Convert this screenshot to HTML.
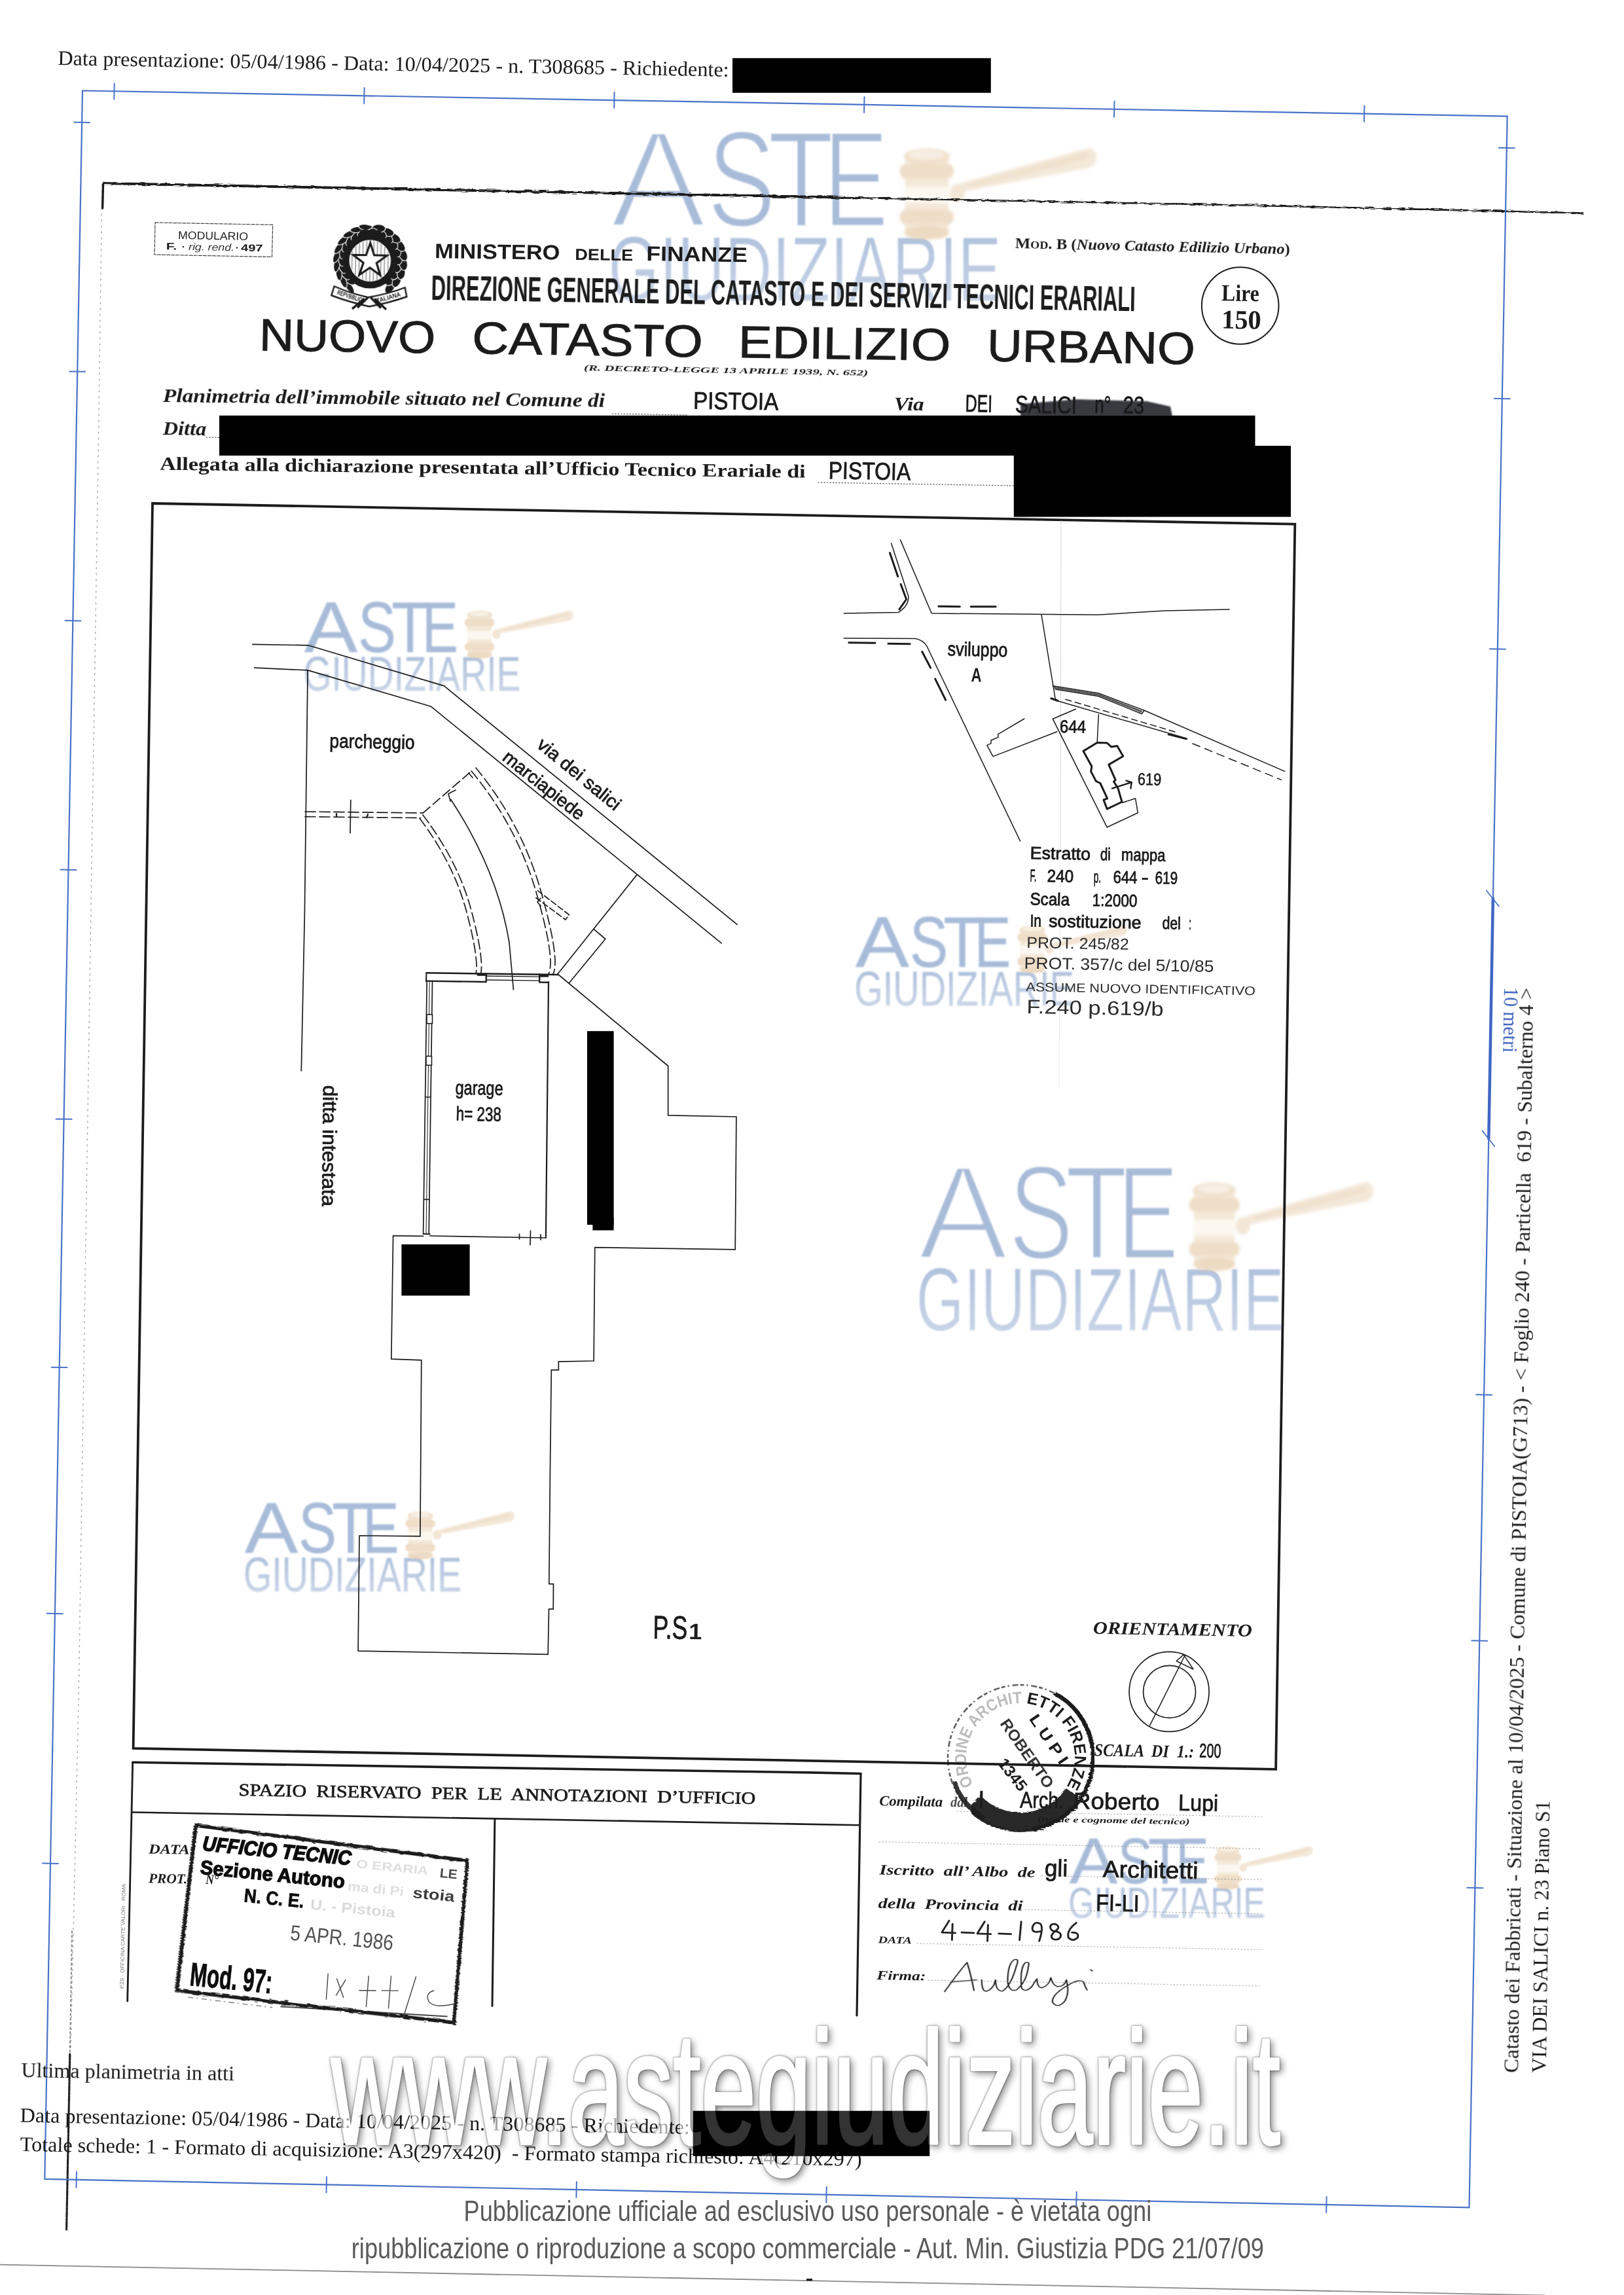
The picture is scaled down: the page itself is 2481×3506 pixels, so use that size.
<!DOCTYPE html>
<html><head><meta charset="utf-8"><title>Planimetria</title>
<style>html,body{margin:0;padding:0;background:#fff}svg{display:block}text{white-space:pre}</style></head>
<body>
<svg width="2481" height="3506" viewBox="0 0 2481 3506">
<defs>
<filter id="blur2" x="-5%" y="-20%" width="110%" height="140%"><feGaussianBlur stdDeviation="2"/></filter>
<filter id="blur1" x="-5%" y="-20%" width="110%" height="140%"><feGaussianBlur stdDeviation="1.1"/></filter>
<filter id="soft" x="-5%" y="-5%" width="110%" height="110%"><feGaussianBlur stdDeviation="0.6"/></filter>
<filter id="wsh" x="-5%" y="-20%" width="110%" height="140%">
 <feGaussianBlur in="SourceAlpha" stdDeviation="5.5" result="b"/>
 <feOffset in="b" dx="4" dy="4" result="o"/>
 <feComposite in="o" in2="SourceAlpha" operator="out" result="c"/>
 <feComponentTransfer in="c" result="sh"><feFuncA type="linear" slope="0.46"/></feComponentTransfer>
 <feMorphology in="SourceAlpha" operator="dilate" radius="1.2" result="d"/>
 <feGaussianBlur in="d" stdDeviation="0.8" result="db"/>
 <feComposite in="db" in2="SourceAlpha" operator="out" result="ol"/>
 <feComponentTransfer in="ol" result="ol2"><feFuncA type="linear" slope="0.3"/></feComponentTransfer>
 <feMerge><feMergeNode in="sh"/><feMergeNode in="ol2"/></feMerge>
</filter>
<filter id="rough" x="-2%" y="-50%" width="104%" height="200%">
 <feTurbulence type="fractalNoise" baseFrequency="0.08 0.6" numOctaves="2" seed="3" result="n"/>
 <feDisplacementMap in="SourceGraphic" in2="n" scale="5"/>
</filter>
<linearGradient id="gg" gradientUnits="userSpaceOnUse" x1="0" y1="15" x2="0" y2="110"><stop offset="0" stop-color="#b0c2dd"/><stop offset="1" stop-color="#c8d4e7"/></linearGradient>
<g id="gavel">
 <path d="M100 64 L118 55 L320 2 Q334 5 331 20 Q329 31 318 33 L122 69 L100 80 Z" fill="#f0dfca"/>
 <path d="M128 57 L316 8 L320 18 L130 63 Z" fill="#e8d2b6" opacity=".8"/>
 <ellipse cx="108" cy="72" rx="12" ry="14" fill="#eedcc5"/>
 <rect x="24" y="8" width="70" height="134" rx="12" fill="#f0dfc9"/>
 <ellipse cx="59" cy="15" rx="37" ry="12" fill="#ead5b9"/>
 <ellipse cx="59" cy="13" rx="28" ry="7" fill="#f5e9da"/>
 <rect x="16" y="27" width="86" height="22" rx="9" fill="#e8d0b2"/>
 <rect x="24" y="62" width="70" height="26" fill="#fbf4ea"/>
 <rect x="16" y="98" width="86" height="22" rx="9" fill="#e8d0b2"/>
 <ellipse cx="59" cy="133" rx="36" ry="11" fill="#e6ccac"/>
</g>
<g id="logo" font-family="Liberation Sans"><text transform="translate(-0.40 0) scale(1.0139 1)" font-size="203.8" fill="#a8bcd9" stroke="#fff" stroke-width="6">A</text><text transform="translate(138.61 0) scale(0.7228 1)" font-size="203.8" fill="#a8bcd9" stroke="#fff" stroke-width="4.5">S</text><text transform="translate(224.73 0) scale(0.7793 1)" font-size="203.8" fill="#a8bcd9" stroke="#fff" stroke-width="4.5">T</text><text transform="translate(304.53 0) scale(0.6863 1)" font-size="203.8" fill="#a8bcd9" stroke="#fff" stroke-width="4.5">E</text><text x="-3.01" y="109.9" font-size="137.5" textLength="562.3" lengthAdjust="spacingAndGlyphs" fill="url(#gg)" stroke="#fff" stroke-width="1.2">GIUDIZIARIE</text></g>
<g id="logoS" font-family="Liberation Sans"><text transform="translate(-0.40 0) scale(1.0139 1)" font-size="203.8" fill="#a8bcd9" stroke="#a8bcd9" stroke-width="0.6">A</text><text transform="translate(138.61 0) scale(0.7228 1)" font-size="203.8" fill="#a8bcd9" stroke="#a8bcd9" stroke-width="0.6">S</text><text transform="translate(224.73 0) scale(0.7793 1)" font-size="203.8" fill="#a8bcd9" stroke="#a8bcd9" stroke-width="0.6">T</text><text transform="translate(304.53 0) scale(0.6863 1)" font-size="203.8" fill="#a8bcd9" stroke="#a8bcd9" stroke-width="0.6">E</text><text x="-3.01" y="109.9" font-size="137.5" textLength="562.3" lengthAdjust="spacingAndGlyphs" fill="url(#gg)" stroke="#bccae1" stroke-width="0.5">GIUDIZIARIE</text></g>
</defs>
<rect x="0.0" y="0.0" width="2481.0" height="3506.0" fill="#ffffff" />
<g filter="url(#blur1)"><use href="#logo" transform="translate(932.5 346.4) scale(1.068 1.03)"/></g>
<g filter="url(#blur2)"><use href="#gavel" transform="translate(932.5 346.4) scale(1.068 1.03) translate(400 -119) scale(0.891 0.96)" opacity=".72"/></g>
<g filter="url(#blur1)"><use href="#logoS" transform="translate(465.2 995.6) scale(0.5906 0.54)"/></g>
<g filter="url(#blur1)"><use href="#gavel" transform="translate(465.2 995.6) scale(0.5906 0.54) translate(400 -119) scale(0.891 0.96)" opacity=".72"/></g>
<g filter="url(#blur1)"><use href="#logoS" transform="translate(1307 1476.5) scale(0.597 0.5386)"/></g>
<g filter="url(#blur1)"><use href="#gavel" transform="translate(1307 1476.5) scale(0.597 0.5386) translate(400 -119) scale(0.891 0.96)" opacity=".72"/></g>
<g filter="url(#blur1)"><use href="#logo" transform="translate(1402.6 1922.6) scale(1 1)"/></g>
<g filter="url(#blur2)"><use href="#gavel" transform="translate(1402.6 1922.6) scale(1 1) translate(400 -119) scale(0.891 0.96)" opacity=".72"/></g>
<g filter="url(#blur1)"><use href="#logoS" transform="translate(373.9 2371.8) scale(0.5924 0.5394)"/></g>
<g filter="url(#blur1)"><use href="#gavel" transform="translate(373.9 2371.8) scale(0.5924 0.5394) translate(400 -119) scale(0.891 0.96)" opacity=".72"/></g>
<g filter="url(#blur1)"><use href="#logoS" transform="translate(1633.9 2877) scale(0.5347 0.4843)"/></g>
<g filter="url(#blur1)"><use href="#gavel" transform="translate(1633.9 2877) scale(0.5347 0.4843) translate(400 -119) scale(0.891 0.96)" opacity=".72"/></g>
<g filter="url(#soft)">
<path d="M156 280 L1300 302" stroke="#1c1c1c" stroke-width="4" fill="none" filter="url(#rough)"/>
<path d="M1300 302 L1900 313.5 L2419 325.5" stroke="#1c1c1c" stroke-width="2.6" fill="none" filter="url(#rough)"/>
<path d="M156.0 282.0 L150.0 700.0 L138.0 1450.0 L120.0 2600.0 L108.0 3130.0" fill="none" stroke="#555" stroke-width="1.6" stroke-linejoin="round" stroke-linecap="round" stroke-dasharray="2 7" opacity=".45"/>
<path d="M157.5 282.0 L156.6 318.0" fill="none" stroke="#1c1c1c" stroke-width="3.4" stroke-linejoin="round" stroke-linecap="round" />
<path d="M106.8 3138.0 L101.6 3406.0" fill="none" stroke="#222" stroke-width="3.2" stroke-linejoin="round" stroke-linecap="round" stroke-dasharray="9 2 3 2" />
<path d="M110.0 2950.0 L106.8 3138.0" fill="none" stroke="#444" stroke-width="2" stroke-linejoin="round" stroke-linecap="round" stroke-dasharray="3 4" opacity=".6"/>
<path d="M237.0 340.0 L416.7 343.4 L415.5 392.5 L236.0 389.0 Z" fill="none" stroke="#444" stroke-width="1.2" stroke-linejoin="round" stroke-linecap="round" stroke-dasharray="5 2" />
<text x="272.0" y="365.0" transform="rotate(1.02 272.0 365.0)" font-family="Liberation Sans" font-size="17" textLength="107.0" lengthAdjust="spacingAndGlyphs" fill="#222" >MODULARIO</text>
<text x="253.7" y="381.3" transform="rotate(1.02 253.7 381.3)" font-family="Liberation Sans" font-size="15" font-weight="bold" textLength="16.3" lengthAdjust="spacingAndGlyphs" fill="#1a1a1a" >F.</text>
<text x="288.0" y="382.0" transform="rotate(1.02 288.0 382.0)" font-family="Liberation Sans" font-size="15" font-style="italic" textLength="70.0" lengthAdjust="spacingAndGlyphs" fill="#333" >rig. rend.</text>
<text x="368.0" y="383.5" transform="rotate(1.02 368.0 383.5)" font-family="Liberation Sans" font-size="15" font-weight="bold" textLength="33.5" lengthAdjust="spacingAndGlyphs" fill="#1a1a1a" >497</text>
<circle cx="280" cy="377" r="1.2" fill="#1c1c1c"/><circle cx="362" cy="378.5" r="1.2" fill="#1c1c1c"/>
<text x="664.0" y="394.3" transform="rotate(0.72 664.0 394.3)" font-family="Liberation Sans" font-size="31.7" font-weight="bold" textLength="191.4" lengthAdjust="spacingAndGlyphs" fill="#1a1a1a" >MINISTERO</text>
<text x="878.3" y="397.0" transform="rotate(0.71 878.3 397.0)" font-family="Liberation Sans" font-size="24.5" font-weight="bold" textLength="88.7" lengthAdjust="spacingAndGlyphs" fill="#1a1a1a" >DELLE</text>
<text x="987.3" y="398.3" transform="rotate(0.71 987.3 398.3)" font-family="Liberation Sans" font-size="31.7" font-weight="bold" textLength="154.4" lengthAdjust="spacingAndGlyphs" fill="#1a1a1a" >FINANZE</text>
<text x="658.5" y="457.5" transform="rotate(0.92 658.5 457.5)" font-family="Liberation Sans" font-size="54" font-weight="bold" textLength="1076.2" lengthAdjust="spacingAndGlyphs" fill="#1a1a1a" >DIREZIONE GENERALE DEL CATASTO E DEI SERVIZI TECNICI ERARIALI</text>
<text x="395.7" y="535.3" transform="rotate(0.84 395.7 535.3)" font-family="Liberation Sans" font-size="69" textLength="269.3" lengthAdjust="spacingAndGlyphs" fill="#1a1a1a" stroke="#1c1c1c" stroke-width="0.9">NUOVO</text>
<text x="721.0" y="540.1" transform="rotate(0.84 721.0 540.1)" font-family="Liberation Sans" font-size="69" textLength="352.5" lengthAdjust="spacingAndGlyphs" fill="#1a1a1a" stroke="#1c1c1c" stroke-width="0.9">CATASTO</text>
<text x="1127.5" y="546.0" transform="rotate(0.84 1127.5 546.0)" font-family="Liberation Sans" font-size="69" textLength="324.5" lengthAdjust="spacingAndGlyphs" fill="#1a1a1a" stroke="#1c1c1c" stroke-width="0.9">EDILIZIO</text>
<text x="1507.8" y="551.6" transform="rotate(0.84 1507.8 551.6)" font-family="Liberation Sans" font-size="69" textLength="317.7" lengthAdjust="spacingAndGlyphs" fill="#1a1a1a" stroke="#1c1c1c" stroke-width="0.9">URBANO</text>
<text x="1550.8" y="379.3" transform="rotate(1.25 1550.8 379.3)" font-family="Liberation Serif" font-weight="bold" font-size="23" textLength="420" lengthAdjust="spacingAndGlyphs" fill="#1c1c1c">M<tspan font-size="17">OD</tspan>. B (<tspan font-style="italic">Nuovo Catasto Edilizio Urbano</tspan>)</text>
<text x="892.0" y="565.5" transform="rotate(1.02 892.0 565.5)" font-family="Liberation Serif" font-size="13.5" font-weight="bold" font-style="italic" textLength="434.1" lengthAdjust="spacingAndGlyphs" fill="#1a1a1a" >(R. DECRETO-LEGGE 13 APRILE 1939, N. 652)</text>
<circle cx="1894.7" cy="467" r="58.8" fill="none" stroke="#1c1c1c" stroke-width="2"/>
<text x="1866.0" y="459.3" transform="rotate(1.02 1866.0 459.3)" font-family="Liberation Serif" font-size="36" font-weight="bold" textLength="57.5" lengthAdjust="spacingAndGlyphs" fill="#1a1a1a" >Lire</text>
<text x="1866.0" y="501.6" transform="rotate(1.02 1866.0 501.6)" font-family="Liberation Serif" font-size="41" font-weight="bold" textLength="60.5" lengthAdjust="spacingAndGlyphs" fill="#1a1a1a" >150</text>
<text x="248.8" y="613.8" transform="rotate(0.65 248.8 613.8)" font-family="Liberation Serif" font-size="28.5" font-weight="bold" font-style="italic" textLength="675.2" lengthAdjust="spacingAndGlyphs" fill="#1a1a1a" >Planimetria dell’immobile situato nel Comune di</text>
<text x="1059.0" y="624.5" transform="rotate(0.79 1059.0 624.5)" font-family="Liberation Sans" font-size="37" textLength="130.0" lengthAdjust="spacingAndGlyphs" stroke="#1a1a1a" stroke-width="0.8" fill="#1a1a1a" >PISTOIA</text>
<text x="1365.8" y="626.3" transform="rotate(1.02 1365.8 626.3)" font-family="Liberation Serif" font-size="28.5" font-weight="bold" font-style="italic" textLength="45.8" lengthAdjust="spacingAndGlyphs" fill="#1a1a1a" >Via</text>
<text x="1474.6" y="628.8" transform="rotate(1.02 1474.6 628.8)" font-family="Liberation Sans" font-size="37" textLength="41.4" lengthAdjust="spacingAndGlyphs" stroke="#1a1a1a" stroke-width="0.8" fill="#1a1a1a" >DEI</text>
<path d="M1559 617 L1645 610 L1752 613 L1788 621 L1791 636 L1559 636 Z" fill="#262932" opacity=".92" filter="url(#blur1)"/>
<text x="1550.8" y="630.2" transform="rotate(1.02 1550.8 630.2)" font-family="Liberation Sans" font-size="37" textLength="93.9" lengthAdjust="spacingAndGlyphs" stroke="#1a1a1a" stroke-width="0.8" fill="#1a1a1a" >SALICI</text>
<text x="1672.0" y="630.7" transform="rotate(1.02 1672.0 630.7)" font-family="Liberation Sans" font-size="37" textLength="25.0" lengthAdjust="spacingAndGlyphs" stroke="#1a1a1a" stroke-width="0.8" fill="#1a1a1a" >n°</text>
<text x="1715.5" y="631.2" transform="rotate(1.02 1715.5 631.2)" font-family="Liberation Sans" font-size="37" textLength="32.5" lengthAdjust="spacingAndGlyphs" stroke="#1a1a1a" stroke-width="0.8" fill="#1a1a1a" >23</text>
<text x="248.8" y="663.5" transform="rotate(1.02 248.8 663.5)" font-family="Liberation Serif" font-size="28.5" font-weight="bold" font-style="italic" textLength="66.2" lengthAdjust="spacingAndGlyphs" fill="#1a1a1a" >Ditta</text>
<text x="244.3" y="717.7" transform="rotate(0.69 244.3 717.7)" font-family="Liberation Serif" font-size="28.5" font-weight="bold" textLength="986.3" lengthAdjust="spacingAndGlyphs" fill="#1a1a1a" >Allegata alla dichiarazione presentata all’Ufficio Tecnico Erariale di</text>
<text x="1265.5" y="731.2" transform="rotate(1.02 1265.5 731.2)" font-family="Liberation Sans" font-size="37" textLength="125.5" lengthAdjust="spacingAndGlyphs" stroke="#1a1a1a" stroke-width="0.8" fill="#1a1a1a" >PISTOIA</text>
<path d="M935.0 632.0 L1050.0 634.0" fill="none" stroke="#555" stroke-width="1.2" stroke-linejoin="round" stroke-linecap="round" stroke-dasharray="1.5 3" />
<path d="M1200.0 636.0 L1335.0 638.0" fill="none" stroke="#555" stroke-width="1.2" stroke-linejoin="round" stroke-linecap="round" stroke-dasharray="1.5 3" />
<path d="M1420.0 639.0 L1550.0 641.0" fill="none" stroke="#555" stroke-width="1.2" stroke-linejoin="round" stroke-linecap="round" stroke-dasharray="1.5 3" />
<path d="M1250.0 737.0 L1549.0 742.0" fill="none" stroke="#555" stroke-width="1.2" stroke-linejoin="round" stroke-linecap="round" stroke-dasharray="1.5 3" />
<path d="M315.0 668.0 L335.0 668.4" fill="none" stroke="#555" stroke-width="1.2" stroke-linejoin="round" stroke-linecap="round" stroke-dasharray="1.5 3" />
<g transform="translate(565.3 398.3) rotate(1)">
 <g fill="#1c1c1c" stroke="#fff" stroke-width="1.1"><ellipse cx="-31.4" cy="40.2" rx="12" ry="4.6" transform="rotate(233 -31.4 40.2)"/><ellipse cx="-30.9" cy="32.0" rx="9" ry="3.6" transform="rotate(209 -30.9 32.0)"/><ellipse cx="-40.7" cy="30.7" rx="12" ry="4.6" transform="rotate(248 -40.7 30.7)"/><ellipse cx="-38.1" cy="22.9" rx="9" ry="3.6" transform="rotate(224 -38.1 22.9)"/><ellipse cx="-47.3" cy="19.1" rx="12" ry="4.6" transform="rotate(263 -47.3 19.1)"/><ellipse cx="-42.8" cy="12.3" rx="9" ry="3.6" transform="rotate(239 -42.8 12.3)"/><ellipse cx="-50.6" cy="6.2" rx="12" ry="4.6" transform="rotate(278 -50.6 6.2)"/><ellipse cx="-44.5" cy="0.8" rx="9" ry="3.6" transform="rotate(254 -44.5 0.8)"/><ellipse cx="-50.5" cy="-7.1" rx="12" ry="4.6" transform="rotate(293 -50.5 -7.1)"/><ellipse cx="-43.2" cy="-10.8" rx="9" ry="3.6" transform="rotate(269 -43.2 -10.8)"/><ellipse cx="-46.9" cy="-19.9" rx="12" ry="4.6" transform="rotate(308 -46.9 -19.9)"/><ellipse cx="-38.9" cy="-21.6" rx="9" ry="3.6" transform="rotate(284 -38.9 -21.6)"/><ellipse cx="-40.2" cy="-31.4" rx="12" ry="4.6" transform="rotate(323 -40.2 -31.4)"/><ellipse cx="-32.0" cy="-30.9" rx="9" ry="3.6" transform="rotate(299 -32.0 -30.9)"/><ellipse cx="-30.7" cy="-40.7" rx="12" ry="4.6" transform="rotate(338 -30.7 -40.7)"/><ellipse cx="-22.9" cy="-38.1" rx="9" ry="3.6" transform="rotate(314 -22.9 -38.1)"/><ellipse cx="-19.1" cy="-47.3" rx="12" ry="4.6" transform="rotate(353 -19.1 -47.3)"/><ellipse cx="-12.3" cy="-42.8" rx="9" ry="3.6" transform="rotate(329 -12.3 -42.8)"/><ellipse cx="-6.2" cy="-50.6" rx="12" ry="4.6" transform="rotate(368 -6.2 -50.6)"/><ellipse cx="-0.8" cy="-44.5" rx="9" ry="3.6" transform="rotate(344 -0.8 -44.5)"/><ellipse cx="31.4" cy="40.2" rx="10.5" ry="6.2" transform="rotate(307 31.4 40.2)"/><ellipse cx="31.5" cy="31.5" rx="8" ry="5" transform="rotate(330 31.5 31.5)"/><ellipse cx="41.3" cy="30.0" rx="10.5" ry="6.2" transform="rotate(291 41.3 30.0)"/><ellipse cx="38.9" cy="21.6" rx="8" ry="5" transform="rotate(314 38.9 21.6)"/><ellipse cx="47.9" cy="17.4" rx="10.5" ry="6.2" transform="rotate(275 47.9 17.4)"/><ellipse cx="43.4" cy="10.0" rx="8" ry="5" transform="rotate(298 43.4 10.0)"/><ellipse cx="50.9" cy="3.6" rx="10.5" ry="6.2" transform="rotate(259 50.9 3.6)"/><ellipse cx="44.4" cy="-2.3" rx="8" ry="5" transform="rotate(282 44.4 -2.3)"/><ellipse cx="49.9" cy="-10.6" rx="10.5" ry="6.2" transform="rotate(243 49.9 -10.6)"/><ellipse cx="42.1" cy="-14.5" rx="8" ry="5" transform="rotate(266 42.1 -14.5)"/><ellipse cx="45.0" cy="-23.9" rx="10.5" ry="6.2" transform="rotate(227 45.0 -23.9)"/><ellipse cx="36.5" cy="-25.5" rx="8" ry="5" transform="rotate(250 36.5 -25.5)"/><ellipse cx="36.7" cy="-35.4" rx="10.5" ry="6.2" transform="rotate(211 36.7 -35.4)"/><ellipse cx="28.0" cy="-34.6" rx="8" ry="5" transform="rotate(234 28.0 -34.6)"/><ellipse cx="25.5" cy="-44.2" rx="10.5" ry="6.2" transform="rotate(195 25.5 -44.2)"/><ellipse cx="17.4" cy="-41.0" rx="8" ry="5" transform="rotate(218 17.4 -41.0)"/><ellipse cx="12.3" cy="-49.5" rx="10.5" ry="6.2" transform="rotate(179 12.3 -49.5)"/><ellipse cx="5.4" cy="-44.2" rx="8" ry="5" transform="rotate(202 5.4 -44.2)"/></g>
 <circle r="32" fill="#fff"/>
 <g stroke="#1c1c1c" stroke-width="1.8" opacity=".4"><path d="M-27.5 -14.3 L-27.5 14.3"/><path d="M-22.0 -21.8 L-22.0 21.8"/><path d="M-16.5 -26.2 L-16.5 26.2"/><path d="M-11.0 -29.0 L-11.0 29.0"/><path d="M-5.5 -30.5 L-5.5 30.5"/><path d="M0.0 -31.0 L0.0 31.0"/><path d="M5.5 -30.5 L5.5 30.5"/><path d="M11.0 -29.0 L11.0 29.0"/><path d="M16.5 -26.2 L16.5 26.2"/><path d="M22.0 -21.8 L22.0 21.8"/><path d="M27.5 -14.3 L27.5 14.3"/></g>
 <circle r="37" fill="none" stroke="#1c1c1c" stroke-width="10.5"/>
 <path d="M-18 -40 L18 -40 L15 -47 L-15 -47 Z" fill="#1c1c1c"/>
 <path d="M0.0 -27.0 L6.2 -8.6 L25.7 -8.3 L10.1 3.3 L15.9 21.8 L0.0 10.6 L-15.9 21.8 L-10.1 3.3 L-25.7 -8.3 L-6.2 -8.6 Z" fill="#fff" stroke="#1c1c1c" stroke-width="3.2" stroke-linejoin="miter"/>
 <path d="M-54 40 Q-30 50 -2 56 Q30 50 54 40 L57 54 Q30 64 0 70 Q-30 64 -58 54 Z" fill="#fff" stroke="#1c1c1c" stroke-width="2.4"/>
 <path d="M-8 58 L-26 74 M8 58 L26 74 M-2 56 L-18 72 M2 56 L18 72" stroke="#1c1c1c" stroke-width="3.5"/>
 <text x="-50" y="52" font-family="Liberation Sans" font-weight="bold" font-size="10" transform="rotate(17 -50 52)" textLength="44" lengthAdjust="spacingAndGlyphs" fill="#1c1c1c">REPVBBLICA</text>
 <text x="10" y="65" font-family="Liberation Sans" font-weight="bold" font-size="10" transform="rotate(-17 10 65)" textLength="40" lengthAdjust="spacingAndGlyphs" fill="#1c1c1c">ITALIANA</text>
</g>
<path d="M233.0 769.0 L1978.3 800.7 L1949.1 2702.9 L203.6 2671.0 Z" fill="none" stroke="#1c1c1c" stroke-width="3.8" stroke-linejoin="miter" stroke-linecap="round" />
<path d="M1621.0 795.0 L1620.0 1300.0" fill="none" stroke="#b5b5b5" stroke-width="1.1" stroke-linejoin="round" stroke-linecap="round" opacity=".5"/>
<path d="M1620.0 1300.0 L1618.0 1660.0" fill="none" stroke="#c4c4c4" stroke-width="1" stroke-linejoin="round" stroke-linecap="round" opacity=".35"/>
<path d="M385.9 984.4 L470.8 985.8 L678.5 1047.9 L1126.2 1412.3" fill="none" stroke="#1c1c1c" stroke-width="1.7" stroke-linejoin="round" stroke-linecap="round" />
<path d="M388.8 1020.2 L470.1 1023.9 L658.5 1079.3 L1102.1 1440.8" fill="none" stroke="#1c1c1c" stroke-width="1.7" stroke-linejoin="round" stroke-linecap="round" />
<path d="M470.1 1023.9 L465.3 1400.0 L460.3 1636.0" fill="none" stroke="#1c1c1c" stroke-width="1.7" stroke-linejoin="round" stroke-linecap="round" />
<path d="M466.0 1240.0 L646.3 1241.9" fill="none" stroke="#1c1c1c" stroke-width="1.7" stroke-linejoin="round" stroke-linecap="round" stroke-dasharray="16 6" />
<path d="M466.0 1247.6 L642.6 1249.5" fill="none" stroke="#1c1c1c" stroke-width="1.7" stroke-linejoin="round" stroke-linecap="round" stroke-dasharray="16 6" />
<path d="M535.8 1222.3 L535.0 1272.5" fill="none" stroke="#1c1c1c" stroke-width="1.7" stroke-linejoin="round" stroke-linecap="round" />
<path d="M514.0 1243.0 L514.0 1247.0" fill="none" stroke="#1c1c1c" stroke-width="2.2" stroke-linejoin="round" stroke-linecap="round" />
<path d="M562.0 1244.0 L560.0 1249.0" fill="none" stroke="#1c1c1c" stroke-width="2.2" stroke-linejoin="round" stroke-linecap="round" />
<path d="M646.3 1241.9 L720.2 1178.0" fill="none" stroke="#1c1c1c" stroke-width="1.7" stroke-linejoin="round" stroke-linecap="round" stroke-dasharray="14 6" />
<path d="M716.0 1181.0 L722.0 1188.0" fill="none" stroke="#1c1c1c" stroke-width="1.7" stroke-linejoin="round" stroke-linecap="round" />
<path d="M696.0 1207.0 L685.0 1212.5 L688.0 1224.0" fill="none" stroke="#1c1c1c" stroke-width="1.7" stroke-linejoin="round" stroke-linecap="round" />
<path d="M720.2 1178 Q790 1262 819.5 1364.3 T838 1488" fill="none" stroke="#1c1c1c" stroke-width="1.7" stroke-linecap="round" stroke-linejoin="round" stroke-dasharray="15 6" />
<path d="M727 1173 Q797 1258 826.5 1362 T845 1488" fill="none" stroke="#1c1c1c" stroke-width="1.7" stroke-linecap="round" stroke-linejoin="round" stroke-dasharray="15 6" />
<path d="M688.8 1221.5 Q760 1330 778 1440 L784.4 1512" fill="none" stroke="#1c1c1c" stroke-width="1.7" stroke-linecap="round" stroke-linejoin="round" />
<path d="M646 1245 Q700 1316 719.8 1390.1 T734.5 1488" fill="none" stroke="#1c1c1c" stroke-width="1.7" stroke-linecap="round" stroke-linejoin="round" stroke-dasharray="15 6" />
<path d="M641 1250 Q693 1319 712.5 1392 T727 1488" fill="none" stroke="#1c1c1c" stroke-width="1.7" stroke-linecap="round" stroke-linejoin="round" stroke-dasharray="15 6" />
<path d="M821.4 1360.6 L869.4 1397.5 L864.0 1405.0 L818.0 1371.0" fill="none" stroke="#1c1c1c" stroke-width="1.7" stroke-linejoin="round" stroke-linecap="round" stroke-dasharray="9 4" />
<path d="M826.0 1372.0 L821.0 1378.0 L826.0 1384.0" fill="none" stroke="#1c1c1c" stroke-width="1.7" stroke-linejoin="round" stroke-linecap="round" />
<path d="M972.8 1336.6 L852.0 1488.0" fill="none" stroke="#1c1c1c" stroke-width="1.7" stroke-linejoin="round" stroke-linecap="round" />
<path d="M907.4 1419.7 L924.8 1434.5 L869.4 1501.7" fill="none" stroke="#1c1c1c" stroke-width="1.7" stroke-linejoin="round" stroke-linecap="round" />
<path d="M651.4 1486.2 L852.0 1489.0" fill="none" stroke="#1c1c1c" stroke-width="2.4" stroke-linejoin="round" stroke-linecap="round" />
<path d="M651.4 1486.2 L651.0 1499.0" fill="none" stroke="#1c1c1c" stroke-width="2" stroke-linejoin="round" stroke-linecap="round" />
<path d="M651.0 1498.6 L742.7 1500.0 L742.9 1487.5" fill="none" stroke="#1c1c1c" stroke-width="2.4" stroke-linejoin="round" stroke-linecap="round" />
<path d="M742.7 1491.0 L824.3 1492.2" fill="none" stroke="#1c1c1c" stroke-width="1.3" stroke-linejoin="round" stroke-linecap="round" />
<path d="M742.7 1497.0 L824.3 1498.2" fill="none" stroke="#1c1c1c" stroke-width="1.3" stroke-linejoin="round" stroke-linecap="round" />
<path d="M824.3 1488.5 L824.1 1500.5 L838.0 1500.8" fill="none" stroke="#1c1c1c" stroke-width="2.4" stroke-linejoin="round" stroke-linecap="round" />
<rect x="824" y="1488.6" width="14" height="4" fill="#1c1c1c"/><rect x="729" y="1486.8" width="14" height="4" fill="#1c1c1c"/>
<path d="M838.0 1500.0 L833.9 1890.6" fill="none" stroke="#1c1c1c" stroke-width="2.2" stroke-linejoin="round" stroke-linecap="round" />
<path d="M652.2 1499.0 L646.6 1885.0" fill="none" stroke="#1c1c1c" stroke-width="1.7" stroke-linejoin="round" stroke-linecap="round" />
<path d="M660.5 1499.0 L655.2 1885.0" fill="none" stroke="#1c1c1c" stroke-width="1.7" stroke-linejoin="round" stroke-linecap="round" />
<path d="M656.2 1499.0 L651.0 1885.0" fill="none" stroke="#1c1c1c" stroke-width="1" stroke-linejoin="round" stroke-linecap="round" />
<rect x="652.0" y="1549.8" width="8.5" height="13.8" fill="#fff" stroke="#1c1c1c" stroke-width="1.6"/>
<rect x="651.0" y="1613.5" width="8.5" height="13.8" fill="#fff" stroke="#1c1c1c" stroke-width="1.6"/>
<path d="M649.8 1676.0 L657.6 1676.0" fill="none" stroke="#1c1c1c" stroke-width="1.7" stroke-linejoin="round" stroke-linecap="round" />
<path d="M647.6 1832.4 L655.6 1832.4" fill="none" stroke="#1c1c1c" stroke-width="1.7" stroke-linejoin="round" stroke-linecap="round" />
<path d="M646.6 1885.0 L656.6 1885.3" fill="none" stroke="#1c1c1c" stroke-width="2" stroke-linejoin="round" stroke-linecap="round" />
<path d="M600.6 1887.8 L646.6 1888.4" fill="none" stroke="#1c1c1c" stroke-width="1.7" stroke-linejoin="round" stroke-linecap="round" />
<path d="M656.6 1888.0 L833.9 1891.0" fill="none" stroke="#1c1c1c" stroke-width="1.7" stroke-linejoin="round" stroke-linecap="round" />
<path d="M793.5 1885.0 L793.5 1893.0" fill="none" stroke="#1c1c1c" stroke-width="1.7" stroke-linejoin="round" stroke-linecap="round" />
<path d="M810.5 1880.0 L810.0 1902.0" fill="none" stroke="#1c1c1c" stroke-width="1.7" stroke-linejoin="round" stroke-linecap="round" />
<path d="M826.0 1886.0 L826.0 1894.0" fill="none" stroke="#1c1c1c" stroke-width="1.7" stroke-linejoin="round" stroke-linecap="round" />
<path d="M852.0 1488.0 L1020.7 1628.5 L1020.7 1703.8 L1124.9 1706.0 L1123.2 1908.9 L908.8 1905.6 L907.1 2079.0 L853.3 2080.1 L853.3 2092.9 L842.3 2092.9 L840.4 2250.0 L838.8 2419.7" fill="none" stroke="#1c1c1c" stroke-width="1.7" stroke-linejoin="miter" stroke-linecap="round" />
<path d="M838.8 2419.7 L845.5 2419.8 L845.2 2458.1 L838.5 2458.1 L837.2 2527.3 L547.1 2522.2 L549.0 2346.0 L641.9 2346.8 L643.8 2077.9 L597.8 2076.2 L600.6 1887.8" fill="none" stroke="#1c1c1c" stroke-width="1.7" stroke-linejoin="miter" stroke-linecap="round" />
<text x="503.3" y="1142.0" transform="rotate(1.02 503.3 1142.0)" font-family="Liberation Sans" font-size="30" textLength="130.1" lengthAdjust="spacingAndGlyphs" stroke="#1a1a1a" stroke-width="0.8" fill="#1a1a1a" >parcheggio</text>
<text x="818.5" y="1140.5" transform="rotate(39.4 818.5 1140.5)" font-family="Liberation Sans" font-size="28" textLength="156" lengthAdjust="spacingAndGlyphs" fill="#1c1c1c" stroke="#1c1c1c" stroke-width=".8">via dei salici</text>
<text x="766" y="1160" transform="rotate(38.6 766 1160)" font-family="Liberation Sans" font-size="28" textLength="151" lengthAdjust="spacingAndGlyphs" fill="#1c1c1c" stroke="#1c1c1c" stroke-width=".8">marciapiede</text>
<text x="695.4" y="1671.7" transform="rotate(1.02 695.4 1671.7)" font-family="Liberation Sans" font-size="30" textLength="73.1" lengthAdjust="spacingAndGlyphs" stroke="#1a1a1a" stroke-width="0.8" fill="#1a1a1a" >garage</text>
<text x="696.5" y="1711.6" transform="rotate(1.02 696.5 1711.6)" font-family="Liberation Sans" font-size="30" textLength="69.3" lengthAdjust="spacingAndGlyphs" stroke="#1a1a1a" stroke-width="0.8" fill="#1a1a1a" >h= 238</text>
<text x="494" y="1657.8" transform="rotate(90.6 494 1657.8)" font-family="Liberation Sans" font-size="30" textLength="185" lengthAdjust="spacingAndGlyphs" fill="#1c1c1c" stroke="#1c1c1c" stroke-width=".8">ditta intestata</text>
<text x="997.3" y="2503.0" transform="rotate(1.02 997.3 2503.0)" font-family="Liberation Sans" font-size="50" textLength="52.7" lengthAdjust="spacingAndGlyphs" stroke="#1a1a1a" stroke-width="0.8" fill="#1a1a1a" >P.S</text>
<text x="1052.0" y="2504.0" transform="rotate(1.02 1052.0 2504.0)" font-family="Liberation Sans" font-size="34" font-weight="bold" textLength="20.2" lengthAdjust="spacingAndGlyphs" fill="#1a1a1a" >1</text>
<path d="M1375.4 824.6 L1423.2 937.0 L1677.2 939.2 L1780.0 933.0 L1878.1 931.1" fill="none" stroke="#1c1c1c" stroke-width="1.5" stroke-linejoin="round" stroke-linecap="round" />
<path d="M1361.6 829.9 L1387.8 910.8 Q1389 925 1372.4 935.5 L1289.2 937" fill="none" stroke="#1c1c1c" stroke-width="1.5" stroke-linecap="round" stroke-linejoin="round" />
<path d="M1359.4 844.6 L1371.7 880.7" fill="none" stroke="#1c1c1c" stroke-width="3" stroke-linejoin="round" stroke-linecap="round" />
<path d="M1376.1 892.4 L1384.7 915.5 L1373.9 930.8" fill="none" stroke="#1c1c1c" stroke-width="3" stroke-linejoin="round" stroke-linecap="round" />
<path d="M1433.9 926.2 L1466.3 926.8" fill="none" stroke="#1c1c1c" stroke-width="3" stroke-linejoin="round" stroke-linecap="round" />
<path d="M1483.2 926.8 L1521.1 926.8" fill="none" stroke="#1c1c1c" stroke-width="3" stroke-linejoin="round" stroke-linecap="round" />
<path d="M1289.2 974.9 L1398.5 975.5 Q1410 978 1415.5 986.3 L1558.6 1284.9" fill="none" stroke="#1c1c1c" stroke-width="1.5" stroke-linecap="round" stroke-linejoin="round" />
<path d="M1296.9 981.7 L1337.0 982.3" fill="none" stroke="#1c1c1c" stroke-width="3" stroke-linejoin="round" stroke-linecap="round" />
<path d="M1357.0 983.2 L1390.2 983.8" fill="none" stroke="#1c1c1c" stroke-width="3" stroke-linejoin="round" stroke-linecap="round" />
<path d="M1408.7 995.5 L1421.6 1020.1" fill="none" stroke="#1c1c1c" stroke-width="3" stroke-linejoin="round" stroke-linecap="round" />
<path d="M1428.7 1037.1 L1444.7 1069.4" fill="none" stroke="#1c1c1c" stroke-width="3" stroke-linejoin="round" stroke-linecap="round" />
<path d="M1591.0 939.2 L1612.5 1069.4" fill="none" stroke="#1c1c1c" stroke-width="1.5" stroke-linejoin="round" stroke-linecap="round" />
<path d="M1608.4 1047.8 L1678.3 1059.0 L1748.1 1085.3 L1962.7 1178.4" fill="none" stroke="#1c1c1c" stroke-width="1.5" stroke-linejoin="round" stroke-linecap="round" />
<path d="M1612.3 1053.0 L1677.0 1063.4 L1744.2 1090.5 L1748.1 1085.3" fill="none" stroke="#1c1c1c" stroke-width="1.5" stroke-linejoin="round" stroke-linecap="round" />
<path d="M1611.0 1050.5 L1677.5 1061.2 L1745.0 1087.5" fill="none" stroke="#555" stroke-width="3" stroke-linejoin="round" stroke-linecap="round" stroke-dasharray="3 2" />
<path d="M1612.3 1069.8 L1812.7 1128.0" fill="none" stroke="#1c1c1c" stroke-width="1.5" stroke-linejoin="round" stroke-linecap="round" />
<path d="M1606.0 1067.0 L1616.0 1070.5" fill="none" stroke="#1c1c1c" stroke-width="3.2" stroke-linejoin="round" stroke-linecap="round" />
<path d="M1628.0 1068.5 L1800.0 1119.5" fill="none" stroke="#1c1c1c" stroke-width="1.5" stroke-linejoin="round" stroke-linecap="round" stroke-dasharray="9 6" />
<path d="M1785.0 1122.0 L1812.7 1129.0" fill="none" stroke="#1c1c1c" stroke-width="2.6" stroke-linejoin="round" stroke-linecap="round" />
<path d="M1822.0 1136.0 L1957.6 1191.4" fill="none" stroke="#1c1c1c" stroke-width="1.5" stroke-linejoin="round" stroke-linecap="round" stroke-dasharray="12 8" />
<path d="M1643.4 1083.3 L1608.4 1098.3 L1691.2 1263.8 L1738.3 1241.8 L1734.6 1219.8 L1714.5 1226.3" fill="none" stroke="#1c1c1c" stroke-width="1.5" stroke-linejoin="round" stroke-linecap="round" />
<path d="M1678.3 1091.8 L1676.2 1133.2" fill="none" stroke="#1c1c1c" stroke-width="1.5" stroke-linejoin="round" stroke-linecap="round" />
<path d="M1614.9 1117.7 L1517.1 1155.6 L1507.8 1138.7 L1514.0 1135.6 L1514.0 1131.0 L1524.8 1126.4 L1524.8 1121.7 L1564.8 1098.0" fill="none" stroke="#1c1c1c" stroke-width="1.5" stroke-linejoin="round" stroke-linecap="round" />
<path d="M1676.2 1134.5 L1691.2 1135.0 L1697.7 1140.9 L1706.7 1139.6 L1715.8 1155.2 L1693.8 1168.1 L1704.1 1191.4 L1701.5 1194.0 L1708.0 1204.3 L1714.0 1225.0 L1691.2 1235.8 L1686.0 1221.9 L1691.7 1219.8 L1680.9 1196.5 L1674.4 1193.4 L1666.6 1178.4 L1667.9 1170.7 L1655.0 1147.4 Z" fill="none" stroke="#1c1c1c" stroke-width="3" stroke-linejoin="round" stroke-linecap="round" />
<path d="M1699.0 1204.3 L1728.7 1195.2" fill="none" stroke="#1c1c1c" stroke-width="2.4" stroke-linejoin="round" stroke-linecap="round" />
<path d="M1720.5 1192.6 L1728.7 1195.2 L1727.4 1204.3" fill="none" stroke="#1c1c1c" stroke-width="2.4" stroke-linejoin="round" stroke-linecap="round" />
<text x="1737.7" y="1199.1" transform="rotate(1.02 1737.7 1199.1)" font-family="Liberation Sans" font-size="26" textLength="36.3" lengthAdjust="spacingAndGlyphs" fill="#1a1a1a" stroke="#1c1c1c" stroke-width=".6">619</text>
<text x="1618.8" y="1119.0" transform="rotate(1.02 1618.8 1119.0)" font-family="Liberation Sans" font-size="27" textLength="40.1" lengthAdjust="spacingAndGlyphs" stroke="#1a1a1a" stroke-width="0.8" fill="#1a1a1a" >644</text>
<text x="1447.6" y="1001.5" transform="rotate(1.02 1447.6 1001.5)" font-family="Liberation Sans" font-size="30" textLength="91.6" lengthAdjust="spacingAndGlyphs" stroke="#1a1a1a" stroke-width="0.8" fill="#1a1a1a" >sviluppo</text>
<text x="1483.6" y="1041.3" transform="rotate(1.02 1483.6 1041.3)" font-family="Liberation Sans" font-size="30" font-weight="bold" textLength="15.9" lengthAdjust="spacingAndGlyphs" fill="#1a1a1a" >A</text>
<text x="1573.5" y="1312.0" transform="rotate(1.02 1573.5 1312.0)" font-family="Liberation Sans" font-size="26.5" textLength="92.5" lengthAdjust="spacingAndGlyphs" stroke="#1a1a1a" stroke-width="0.8" fill="#1a1a1a" >Estratto</text>
<text x="1680.7" y="1313.9" transform="rotate(1.02 1680.7 1313.9)" font-family="Liberation Sans" font-size="26.5" textLength="16.0" lengthAdjust="spacingAndGlyphs" stroke="#1a1a1a" stroke-width="0.8" fill="#1a1a1a" >di</text>
<text x="1712.7" y="1314.5" transform="rotate(1.02 1712.7 1314.5)" font-family="Liberation Sans" font-size="26.5" textLength="67.7" lengthAdjust="spacingAndGlyphs" stroke="#1a1a1a" stroke-width="0.8" fill="#1a1a1a" >mappa</text>
<text x="1573.5" y="1346.5" transform="rotate(1.02 1573.5 1346.5)" font-family="Liberation Sans" font-size="26.5" textLength="9.9" lengthAdjust="spacingAndGlyphs" stroke="#1a1a1a" stroke-width="0.8" fill="#1a1a1a" >F.</text>
<text x="1599.4" y="1347.0" transform="rotate(1.02 1599.4 1347.0)" font-family="Liberation Sans" font-size="26.5" textLength="40.6" lengthAdjust="spacingAndGlyphs" stroke="#1a1a1a" stroke-width="0.8" fill="#1a1a1a" >240</text>
<text x="1670.8" y="1348.2" transform="rotate(1.02 1670.8 1348.2)" font-family="Liberation Sans" font-size="26.5" textLength="11.1" lengthAdjust="spacingAndGlyphs" stroke="#1a1a1a" stroke-width="0.8" fill="#1a1a1a" >p.</text>
<text x="1700.4" y="1348.8" transform="rotate(1.02 1700.4 1348.8)" font-family="Liberation Sans" font-size="26.5" textLength="36.9" lengthAdjust="spacingAndGlyphs" stroke="#1a1a1a" stroke-width="0.8" fill="#1a1a1a" >644</text>
<text x="1743.5" y="1349.5" transform="rotate(1.02 1743.5 1349.5)" font-family="Liberation Sans" font-size="26.5" textLength="11.1" lengthAdjust="spacingAndGlyphs" stroke="#1a1a1a" stroke-width="0.8" fill="#1a1a1a" >-</text>
<text x="1764.4" y="1349.9" transform="rotate(1.02 1764.4 1349.9)" font-family="Liberation Sans" font-size="26.5" textLength="34.5" lengthAdjust="spacingAndGlyphs" stroke="#1a1a1a" stroke-width="0.8" fill="#1a1a1a" >619</text>
<text x="1573.5" y="1382.2" transform="rotate(1.02 1573.5 1382.2)" font-family="Liberation Sans" font-size="26.5" textLength="60.4" lengthAdjust="spacingAndGlyphs" stroke="#1a1a1a" stroke-width="0.8" fill="#1a1a1a" >Scala</text>
<text x="1668.4" y="1383.9" transform="rotate(1.02 1668.4 1383.9)" font-family="Liberation Sans" font-size="26.5" textLength="68.9" lengthAdjust="spacingAndGlyphs" stroke="#1a1a1a" stroke-width="0.8" fill="#1a1a1a" >1:2000</text>
<text x="1573.5" y="1415.5" transform="rotate(1.02 1573.5 1415.5)" font-family="Liberation Sans" font-size="26.5" textLength="17.3" lengthAdjust="spacingAndGlyphs" stroke="#1a1a1a" stroke-width="0.8" fill="#1a1a1a" >In</text>
<text x="1601.9" y="1416.0" transform="rotate(1.02 1601.9 1416.0)" font-family="Liberation Sans" font-size="26.5" textLength="141.6" lengthAdjust="spacingAndGlyphs" stroke="#1a1a1a" stroke-width="0.8" fill="#1a1a1a" >sostituzione</text>
<text x="1775.5" y="1419.1" transform="rotate(1.02 1775.5 1419.1)" font-family="Liberation Sans" font-size="26.5" textLength="28.3" lengthAdjust="spacingAndGlyphs" stroke="#1a1a1a" stroke-width="0.8" fill="#1a1a1a" >del</text>
<text x="1816.0" y="1419.8" transform="rotate(1.02 1816.0 1419.8)" font-family="Liberation Sans" font-size="26.5" textLength="4.0" lengthAdjust="spacingAndGlyphs" stroke="#1a1a1a" stroke-width="0.8" fill="#1a1a1a" >:</text>
<text x="1568.3" y="1448.0" transform="rotate(1.02 1568.3 1448.0)" font-family="Liberation Sans" font-size="24" textLength="156.2" lengthAdjust="spacingAndGlyphs" fill="#2a2a2a" stroke="none">PROT. 245/82</text>
<text x="1564.6" y="1479.7" transform="rotate(1.02 1564.6 1479.7)" font-family="Liberation Sans" font-size="25" textLength="289.7" lengthAdjust="spacingAndGlyphs" fill="#2a2a2a" stroke="none">PROT. 357/c del 5/10/85</text>
<text x="1567.3" y="1514.1" transform="rotate(1.02 1567.3 1514.1)" font-family="Liberation Sans" font-size="19" textLength="350.6" lengthAdjust="spacingAndGlyphs" fill="#2a2a2a" stroke="none">ASSUME NUOVO IDENTIFICATIVO</text>
<text x="1568.3" y="1548.0" transform="rotate(1.02 1568.3 1548.0)" font-family="Liberation Sans" font-size="30" textLength="209.2" lengthAdjust="spacingAndGlyphs" fill="#2a2a2a" stroke="none">F.240 p.619/b</text>
<text x="1669.7" y="2495.7" transform="rotate(1.02 1669.7 2495.7)" font-family="Liberation Serif" font-size="27" font-weight="bold" font-style="italic" textLength="243.1" lengthAdjust="spacingAndGlyphs" fill="#1a1a1a" >ORIENTAMENTO</text>
<circle cx="1786.1" cy="2584.4" r="61" fill="none" stroke="#1c1c1c" stroke-width="1.7"/><circle cx="1786.6" cy="2584.4" r="40" fill="none" stroke="#1c1c1c" stroke-width="1.7"/>
<path d="M1756.5 2636.1 L1810.1 2529.0" fill="none" stroke="#1c1c1c" stroke-width="1.5" stroke-linejoin="round" stroke-linecap="round" />
<path d="M1808.2 2527.9 L1797.2 2537.5 L1823.0 2550.0 Z" fill="none" stroke="#1c1c1c" stroke-width="1.5" stroke-linejoin="round" stroke-linecap="round" />
<text x="1671.5" y="2682.3" transform="rotate(1.02 1671.5 2682.3)" font-family="Liberation Serif" font-size="27" font-weight="bold" font-style="italic" textLength="152.5" lengthAdjust="spacingAndGlyphs" fill="#1a1a1a" >SCALA  DI  1.:</text>
<text x="1832.0" y="2684.5" transform="rotate(1.02 1832.0 2684.5)" font-family="Liberation Sans" font-size="30" textLength="33.5" lengthAdjust="spacingAndGlyphs" stroke="#1a1a1a" stroke-width="0.8" fill="#1a1a1a" >200</text>
<path d="M202.7 2692.3 L1240.0 2707.9 L1315.0 2709.5" fill="none" stroke="#1c1c1c" stroke-width="3.6" stroke-linejoin="miter" stroke-linecap="round" />
<path d="M194.7 3057.0 L202.7 2692.3" fill="none" stroke="#1c1c1c" stroke-width="2.8" stroke-linejoin="round" stroke-linecap="round" />
<path d="M1315.0 2709.5 L1309.0 3079.0" fill="none" stroke="#1c1c1c" stroke-width="3.2" stroke-linejoin="round" stroke-linecap="round" />
<path d="M202.0 2768.5 L1313.5 2788.2" fill="none" stroke="#1c1c1c" stroke-width="2.6" stroke-linejoin="round" stroke-linecap="round" />
<path d="M755.9 2778.3 L752.0 3064.5" fill="none" stroke="#1c1c1c" stroke-width="3" stroke-linejoin="round" stroke-linecap="round" />
<text x="364.5" y="2743.1" transform="rotate(0.93 364.5 2743.1)" font-family="Liberation Serif" font-size="26.5" textLength="789.8" lengthAdjust="spacingAndGlyphs" fill="#1a1a1a" stroke="#1c1c1c" stroke-width=".7">SPAZIO  RISERVATO  PER  LE  ANNOTAZIONI  D’UFFICIO</text>
<text x="226.9" y="2831.5" transform="rotate(1.02 226.9 2831.5)" font-family="Liberation Serif" font-size="21" font-weight="bold" font-style="italic" textLength="62.8" lengthAdjust="spacingAndGlyphs" fill="#1a1a1a" >DATA</text>
<text x="226.9" y="2876.3" transform="rotate(1.02 226.9 2876.3)" font-family="Liberation Serif" font-size="21" font-weight="bold" font-style="italic" textLength="59.1" lengthAdjust="spacingAndGlyphs" fill="#1a1a1a" >PROT.</text>
<text x="314.0" y="2878.0" transform="rotate(1.02 314.0 2878.0)" font-family="Liberation Serif" font-size="21" font-weight="bold" font-style="italic" textLength="20.0" lengthAdjust="spacingAndGlyphs" fill="#1a1a1a" >N°</text>
<text x="189" y="3038" transform="rotate(-89 189 3038)" font-family="Liberation Sans" font-size="8" textLength="160" lengthAdjust="spacingAndGlyphs" fill="#777">PZS · OFFICINA CARTE VALORI · ROMA</text>
<g transform="translate(299.3 2788.5) rotate(7)">
<path d="M0 0 L418 3 L428 251 L2 254 Z" fill="none" stroke="#1c1c1c" stroke-width="5.5" filter="url(#rough)"/>
<path d="M-2 1 L-1 252" stroke="#1c1c1c" stroke-width="3" stroke-dasharray="2 2" opacity=".7"/>
<path d="M162 259 L417 243" stroke="#1c1c1c" stroke-width="2.2" opacity=".8"/><path d="M20 262 L150 262" stroke="#1c1c1c" stroke-width="1.6" stroke-dasharray="8 5 2 6" opacity=".5"/>
<g transform="rotate(-1.3)" font-family="Liberation Sans" font-weight="bold">
<text x="13" y="37" font-style="italic" font-size="31" textLength="228" lengthAdjust="spacingAndGlyphs" fill="#111" stroke="#111" stroke-width="1.6">UFFICIO TECNIC</text>
<text x="13" y="73" font-size="30" textLength="222" lengthAdjust="spacingAndGlyphs" fill="#111" stroke="#111" stroke-width="1.3">Sezione Autono</text>
<text x="84" y="109" font-size="29" textLength="92" lengthAdjust="spacingAndGlyphs" fill="#111" stroke="#111" stroke-width=".8">N. C. E.</text>
<text x="378" y="42" font-size="20" textLength="27" lengthAdjust="spacingAndGlyphs" fill="#1c1c1c" opacity=".8">LE</text>
<text x="340" y="77" font-size="23" textLength="64" lengthAdjust="spacingAndGlyphs" fill="#1c1c1c" opacity=".85">stoia</text>
<text x="250" y="40" font-size="18" fill="#1c1c1c" opacity=".13" textLength="110" lengthAdjust="spacingAndGlyphs">O ERARIA</text>
<text x="240" y="76" font-size="20" fill="#1c1c1c" opacity=".13" textLength="86" lengthAdjust="spacingAndGlyphs">ma di Pi</text>
<text x="186" y="110" font-size="22" fill="#1c1c1c" opacity=".15" textLength="130" lengthAdjust="spacingAndGlyphs">U. - Pistoia</text>
<text x="160" y="160" font-weight="normal" font-size="33" textLength="158" lengthAdjust="spacingAndGlyphs" fill="#333" opacity=".85">5 APR. 1986</text>
<text x="14" y="244" font-size="50" textLength="126" lengthAdjust="spacingAndGlyphs" fill="#111" stroke="#111" stroke-width="1">Mod. 97:</text>
</g>
<path d="M228 200 l2 40 M242 206 l14 28 m0 -28 l-12 26 M290 196 l2 48 m-14 -24 l26 -3 M324 192 l2 50 m-14 -26 l26 -3 M362 188 l-12 66 M392 206 q-14 6 -6 18 q10 10 40 -2" stroke="#444" stroke-width="1.4" fill="none"/>
</g>
<text x="1343.2" y="2758.2" transform="rotate(1.02 1343.2 2758.2)" font-family="Liberation Serif" font-size="22" font-weight="bold" font-style="italic" textLength="96.8" lengthAdjust="spacingAndGlyphs" fill="#1a1a1a" >Compilata</text>
<text x="1452.0" y="2760.0" transform="rotate(1.02 1452.0 2760.0)" font-family="Liberation Serif" font-size="22" font-weight="bold" font-style="italic" textLength="26.0" lengthAdjust="spacingAndGlyphs" opacity="0.8" fill="#1a1a1a" >dal</text>
<text x="1495.0" y="2760.8" transform="rotate(1.02 1495.0 2760.8)" font-family="Liberation Sans" font-size="34" textLength="8.0" lengthAdjust="spacingAndGlyphs" stroke="#1a1a1a" stroke-width="0.8" fill="#1a1a1a" >l</text>
<text x="1558.0" y="2761.5" transform="rotate(1.02 1558.0 2761.5)" font-family="Liberation Sans" font-size="35" textLength="67.0" lengthAdjust="spacingAndGlyphs" stroke="#1a1a1a" stroke-width="0.8" fill="#1a1a1a" >Arch.</text>
<text x="1639.4" y="2762.9" transform="rotate(1.02 1639.4 2762.9)" font-family="Liberation Sans" font-size="35" textLength="132.1" lengthAdjust="spacingAndGlyphs" stroke="#1a1a1a" stroke-width="0.8" fill="#1a1a1a" >Roberto</text>
<text x="1800.0" y="2765.8" transform="rotate(1.02 1800.0 2765.8)" font-family="Liberation Sans" font-size="35" textLength="61.0" lengthAdjust="spacingAndGlyphs" stroke="#1a1a1a" stroke-width="0.8" fill="#1a1a1a" >Lupi</text>
<text x="1585.0" y="2783.0" transform="rotate(1.02 1585.0 2783.0)" font-family="Liberation Serif" font-size="12.5" font-weight="bold" font-style="italic" textLength="232.5" lengthAdjust="spacingAndGlyphs" fill="#1a1a1a" >(nome e cognome del tecnico)</text>
<text x="1343.2" y="2863.6" transform="rotate(1.02 1343.2 2863.6)" font-family="Liberation Serif" font-size="22" font-weight="bold" font-style="italic" textLength="238.4" lengthAdjust="spacingAndGlyphs" fill="#1a1a1a" >Iscritto  all’ Albo  de</text>
<text x="1595.8" y="2866.0" transform="rotate(1.02 1595.8 2866.0)" font-family="Liberation Sans" font-size="36" textLength="35.2" lengthAdjust="spacingAndGlyphs" stroke="#1a1a1a" stroke-width="0.8" fill="#1a1a1a" >gli</text>
<text x="1684.5" y="2867.5" transform="rotate(1.02 1684.5 2867.5)" font-family="Liberation Sans" font-size="36" textLength="145.9" lengthAdjust="spacingAndGlyphs" stroke="#1a1a1a" stroke-width="0.8" fill="#1a1a1a" >Architetti</text>
<text x="1341.6" y="2914.8" transform="rotate(1.02 1341.6 2914.8)" font-family="Liberation Serif" font-size="22" font-weight="bold" font-style="italic" textLength="220.9" lengthAdjust="spacingAndGlyphs" fill="#1a1a1a" >della  Provincia  di</text>
<text x="1674.0" y="2919.0" transform="rotate(1.02 1674.0 2919.0)" font-family="Liberation Sans" font-size="36" textLength="66.5" lengthAdjust="spacingAndGlyphs" stroke="#1a1a1a" stroke-width="0.8" fill="#1a1a1a" >FI-LI</text>
<text x="1341.6" y="2968.3" transform="rotate(1.02 1341.6 2968.3)" font-family="Liberation Serif" font-size="15" font-weight="bold" font-style="italic" textLength="51.2" lengthAdjust="spacingAndGlyphs" fill="#1a1a1a" >DATA</text>
<text x="1339.3" y="3024.1" transform="rotate(1.02 1339.3 3024.1)" font-family="Liberation Serif" font-size="20" font-weight="bold" font-style="italic" textLength="74.9" lengthAdjust="spacingAndGlyphs" fill="#1a1a1a" >Firma:</text>
<g transform="translate(1438 2962) scale(0.86 0.82) translate(-1438 -2962)">
<path d="M1452 2928 l-13 22 l24 1 M1458 2934 l-1 30  M1474 2950 l22 1  M1515 2930 l-13 22 l24 1 M1521 2936 l-1 30 M1540 2952 l22 1 M1580 2930 l-3 34 M1614 2948 q-16 4 -14 -8 q4 -12 14 -6 q6 6 -2 32 M1640 2934 q-10 0 -8 8 q2 6 10 6 q10 2 8 10 q-4 8 -14 4 q-6 -6 4 -14 q12 -8 0 -14 M1678 2932 q-18 14 -14 28 q8 8 16 0 q4 -10 -10 -10" fill="none" stroke="#222" stroke-width="3.4" stroke-linecap="round" stroke-linejoin="round" />
</g>
<g transform="translate(1443 3040) scale(1.32 0.86) translate(-1443 -3040)">
<path d="M1443 3043 q14 -30 26 -52 q4 18 8 50 M1450 3026 l30 -4 M1486 3022 q0 22 6 20 q8 -4 10 -20 q0 20 8 20 q10 -10 16 -44 q4 -14 -2 -12 q-8 6 -8 40 q2 18 10 14 q12 -14 14 -42 q2 -10 -4 -6 q-6 10 -4 44 q4 10 12 -2 q4 -10 6 -14 q0 16 6 16 q8 -4 10 -18 q2 14 8 16 q8 0 10 -12 q4 24 -2 38 q-8 14 -14 2 q-2 -14 22 -34 q10 -8 14 -2 q2 10 4 14 M1612 3004 l2 2" fill="none" stroke="#222" stroke-width="1.6" stroke-linecap="round" stroke-linejoin="round" />
</g>
<path d="M1462.0 2767.0 L1927.8 2775.3" fill="none" stroke="#777" stroke-width="1.1" stroke-linejoin="round" stroke-linecap="round" stroke-dasharray="1.5 3.5" opacity=".6"/>
<path d="M1343.0 2813.8 L1927.0 2824.2" fill="none" stroke="#777" stroke-width="1.1" stroke-linejoin="round" stroke-linecap="round" stroke-dasharray="1.5 3.5" opacity=".6"/>
<path d="M1591.0 2865.6 L1927.0 2871.6" fill="none" stroke="#777" stroke-width="1.1" stroke-linejoin="round" stroke-linecap="round" stroke-dasharray="1.5 3.5" opacity=".6"/>
<path d="M1566.0 2917.3 L1927.0 2923.7" fill="none" stroke="#777" stroke-width="1.1" stroke-linejoin="round" stroke-linecap="round" stroke-dasharray="1.5 3.5" opacity=".6"/>
<path d="M1401.0 2969.0 L1927.0 2978.4" fill="none" stroke="#777" stroke-width="1.1" stroke-linejoin="round" stroke-linecap="round" stroke-dasharray="1.5 3.5" opacity=".6"/>
<path d="M1418.0 3025.0 L1927.0 3034.0" fill="none" stroke="#777" stroke-width="1.1" stroke-linejoin="round" stroke-linecap="round" stroke-dasharray="1.5 3.5" opacity=".6"/>
<g transform="translate(1559 2685)">
<circle r="111" fill="none" stroke="#1c1c1c" stroke-width="2.6" stroke-dasharray="6 4 2 5 9 3" opacity=".7"/>
<path d="M52.1 -98.0 A111 111 0 0 1 19.3 109.3" fill="none" stroke="#1c1c1c" stroke-width="6.5" filter="url(#rough)"/>
<path d="M82.1 55.4 A99 99 0 0 1 -71.2 68.8" fill="none" stroke="#1c1c1c" stroke-width="30" filter="url(#rough)" opacity=".95"/>
<path d="M-54.0 93.5 A108 108 0 0 1 -101.5 36.9" fill="none" stroke="#1c1c1c" stroke-width="7" filter="url(#rough)" opacity=".9"/>
<path id="stc" d="M8.7 -82.5 A83 83 0 0 1 65.4 51.1" fill="none"/><path id="std" d="M-71.9 41.5 A83 83 0 0 1 5.8 -82.8" fill="none"/>
<text font-family="Liberation Sans" font-weight="bold" font-size="25" fill="#1c1c1c"><textPath href="#stc" textLength="168" lengthAdjust="spacingAndGlyphs">ETTI FIRENZE</textPath></text>
<text font-family="Liberation Sans" font-weight="bold" font-size="25" fill="#1c1c1c" opacity=".3"><textPath href="#std" textLength="176" lengthAdjust="spacingAndGlyphs">ORDINE ARCHIT</textPath></text>
<g font-family="Liberation Sans" font-weight="bold" fill="#1c1c1c" font-size="24"><text x="12.5" y="-59.3" transform="rotate(56 12.5 -59.3)" textLength="86" lengthAdjust="spacingAndGlyphs">L U P I</text><text x="-31.9" y="-51.9" transform="rotate(55 -31.9 -51.9)" textLength="123" lengthAdjust="spacingAndGlyphs" opacity=".9">ROBERTO</text><text x="-35.5" y="9.1" transform="rotate(52 -35.5 9.1)" textLength="56" lengthAdjust="spacingAndGlyphs">1345</text></g>
</g>
</g>
<g filter="url(#soft)">
<path d="M126.0 138.5 L2302.7 177.6 L2244.5 3372.4 L68.3 3328.8 Z" fill="none" stroke="#4a72c8" stroke-width="2.2" stroke-linejoin="miter" stroke-linecap="round" />
<path d="M174.7 127.4 L174.3 151.4" fill="none" stroke="#4a72c8" stroke-width="2" stroke-linejoin="round" stroke-linecap="round" />
<path d="M556.6 134.2 L556.2 158.2" fill="none" stroke="#4a72c8" stroke-width="2" stroke-linejoin="round" stroke-linecap="round" />
<path d="M938.6 141.1 L938.2 165.1" fill="none" stroke="#4a72c8" stroke-width="2" stroke-linejoin="round" stroke-linecap="round" />
<path d="M1320.5 148.0 L1320.1 172.0" fill="none" stroke="#4a72c8" stroke-width="2" stroke-linejoin="round" stroke-linecap="round" />
<path d="M1702.5 154.8 L1702.0 178.8" fill="none" stroke="#4a72c8" stroke-width="2" stroke-linejoin="round" stroke-linecap="round" />
<path d="M2084.4 161.7 L2084.0 185.7" fill="none" stroke="#4a72c8" stroke-width="2" stroke-linejoin="round" stroke-linecap="round" />
<path d="M137.1 187.2 L113.1 186.8" fill="none" stroke="#4a72c8" stroke-width="2" stroke-linejoin="round" stroke-linecap="round" />
<path d="M130.2 567.8 L106.2 567.4" fill="none" stroke="#4a72c8" stroke-width="2" stroke-linejoin="round" stroke-linecap="round" />
<path d="M123.4 948.4 L99.4 948.0" fill="none" stroke="#4a72c8" stroke-width="2" stroke-linejoin="round" stroke-linecap="round" />
<path d="M116.5 1329.0 L92.5 1328.6" fill="none" stroke="#4a72c8" stroke-width="2" stroke-linejoin="round" stroke-linecap="round" />
<path d="M109.6 1709.8 L85.6 1709.4" fill="none" stroke="#4a72c8" stroke-width="2" stroke-linejoin="round" stroke-linecap="round" />
<path d="M102.7 2089.1 L78.7 2088.7" fill="none" stroke="#4a72c8" stroke-width="2" stroke-linejoin="round" stroke-linecap="round" />
<path d="M95.9 2465.2 L71.9 2464.8" fill="none" stroke="#4a72c8" stroke-width="2" stroke-linejoin="round" stroke-linecap="round" />
<path d="M89.0 2846.9 L65.0 2846.5" fill="none" stroke="#4a72c8" stroke-width="2" stroke-linejoin="round" stroke-linecap="round" />
<path d="M2313.8 226.2 L2289.8 225.8" fill="none" stroke="#4a72c8" stroke-width="2" stroke-linejoin="round" stroke-linecap="round" />
<path d="M2306.8 609.2 L2282.8 608.8" fill="none" stroke="#4a72c8" stroke-width="2" stroke-linejoin="round" stroke-linecap="round" />
<path d="M2299.9 991.7 L2275.9 991.3" fill="none" stroke="#4a72c8" stroke-width="2" stroke-linejoin="round" stroke-linecap="round" />
<path d="M2279.1 2131.0 L2255.1 2130.6" fill="none" stroke="#4a72c8" stroke-width="2" stroke-linejoin="round" stroke-linecap="round" />
<path d="M2272.3 2506.7 L2248.3 2506.3" fill="none" stroke="#4a72c8" stroke-width="2" stroke-linejoin="round" stroke-linecap="round" />
<path d="M2265.4 2884.2 L2241.4 2883.8" fill="none" stroke="#4a72c8" stroke-width="2" stroke-linejoin="round" stroke-linecap="round" />
<path d="M117.0 3317.8 L116.5 3341.8" fill="none" stroke="#4a72c8" stroke-width="2" stroke-linejoin="round" stroke-linecap="round" />
<path d="M499.0 3325.4 L498.5 3349.4" fill="none" stroke="#4a72c8" stroke-width="2" stroke-linejoin="round" stroke-linecap="round" />
<path d="M880.9 3333.1 L880.4 3357.1" fill="none" stroke="#4a72c8" stroke-width="2" stroke-linejoin="round" stroke-linecap="round" />
<path d="M1262.8 3340.7 L1262.3 3364.7" fill="none" stroke="#4a72c8" stroke-width="2" stroke-linejoin="round" stroke-linecap="round" />
<path d="M1644.7 3348.4 L1644.2 3372.4" fill="none" stroke="#4a72c8" stroke-width="2" stroke-linejoin="round" stroke-linecap="round" />
<path d="M2026.6 3356.0 L2026.2 3380.0" fill="none" stroke="#4a72c8" stroke-width="2" stroke-linejoin="round" stroke-linecap="round" />
<path d="M2280.9 1372.5 L2274.3 1739.2" fill="none" stroke="#3f66c4" stroke-width="4.5" stroke-linejoin="round" stroke-linecap="round" />
<path d="M2270.9 1360.5 L2289.9 1384.5" fill="none" stroke="#4a72c8" stroke-width="1.8" stroke-linejoin="round" stroke-linecap="round" />
<path d="M2264.3 1727.2 L2283.3 1751.2" fill="none" stroke="#4a72c8" stroke-width="1.8" stroke-linejoin="round" stroke-linecap="round" />
<text x="2298" y="1508" transform="rotate(91 2298 1508)" font-family="Liberation Serif" font-size="31.5" textLength="100" lengthAdjust="spacingAndGlyphs" fill="#3f63c0">10 metri</text>
</g>
<g filter="url(#soft)">
<text x="88.3" y="99.1" transform="rotate(0.99 88.3 99.1)" font-family="Liberation Serif" font-size="31.5" textLength="1025.3" lengthAdjust="spacingAndGlyphs" fill="#1a1a1a" >Data presentazione: 05/04/1986 - Data: 10/04/2025 - n. T308685 - Richiedente:</text>
<text x="32.2" y="3172.8" transform="rotate(0.93 32.2 3172.8)" font-family="Liberation Serif" font-size="31.5" textLength="325.8" lengthAdjust="spacingAndGlyphs" fill="#1a1a1a" >Ultima planimetria in atti</text>
<text x="30.5" y="3241.7" transform="rotate(1.02 30.5 3241.7)" font-family="Liberation Serif" font-size="31.5" textLength="1023.4" lengthAdjust="spacingAndGlyphs" fill="#1a1a1a" >Data presentazione: 05/04/1986 - Data: 10/04/2025 - n. T308685 - Richiedente:</text>
<text x="30.5" y="3286.0" transform="rotate(1.02 30.5 3286.0)" font-family="Liberation Serif" font-size="31.5" textLength="1286.1" lengthAdjust="spacingAndGlyphs" fill="#1a1a1a" >Totale schede: 1 - Formato di acquisizione: A3(297x420)  - Formato stampa richiesto: A4(210x297)</text>
<text x="2319" y="3166.7" transform="rotate(-89.2 2319 3166.7)" font-family="Liberation Serif" font-size="31.5" textLength="1658" lengthAdjust="spacingAndGlyphs" fill="#1c1c1c">Catasto dei Fabbricati - Situazione al 10/04/2025 - Comune di PISTOIA(G713) - &lt; Foglio 240 - Particella  619 - Subalterno 4 &gt;</text>
<text x="2361.5" y="3166.7" transform="rotate(-89.2 2361.5 3166.7)" font-family="Liberation Serif" font-size="31.5" textLength="416" lengthAdjust="spacingAndGlyphs" fill="#1c1c1c">VIA DEI SALICI n. 23 Piano S1</text>
</g>
<path d="M0.0 3459.6 L1240.0 3484.2 L2360.0 3506.5" fill="none" stroke="#8a8a8a" stroke-width="1.8" stroke-linejoin="round" stroke-linecap="round" />
<rect x="1232.0" y="3481.0" width="9.0" height="3.5" fill="#222" />
<text x="506" y="3274.5" font-family="Liberation Sans" font-size="245" textLength="1450" lengthAdjust="spacingAndGlyphs" fill="#000" stroke="#000" stroke-width="4" stroke-linejoin="round" filter="url(#wsh)">www.astegiudiziarie.it</text>
<g opacity=".6"><text x="506" y="3274.5" font-family="Liberation Sans" font-size="245" textLength="1450" lengthAdjust="spacingAndGlyphs" fill="#fff" stroke="#fff" stroke-width="4" stroke-linejoin="round">www.astegiudiziarie.it</text></g>
<rect x="1119.0" y="88.8" width="394.8" height="53.0" fill="#000" />
<rect x="335.0" y="634.8" width="1582.5" height="61.2" fill="#000" />
<rect x="1548.8" y="681.0" width="423.2" height="108.6" fill="#000" />
<rect x="897.0" y="1575.2" width="40.6" height="295.8" fill="#000" />
<rect x="905.4" y="1860.0" width="32.2" height="19.5" fill="#000" />
<rect x="613.4" y="1901.0" width="104.2" height="78.3" fill="#000" />
<rect x="1058.7" y="3224.7" width="361.5" height="69.1" fill="#000" />
<clipPath id="cr"><rect x="1058.7" y="3224.7" width="361.5" height="69.1"/></clipPath>
<g clip-path="url(#cr)" opacity=".2"><text x="506" y="3274.5" font-family="Liberation Sans" font-size="245" textLength="1450" lengthAdjust="spacingAndGlyphs" fill="#fff" stroke="#fff" stroke-width="4" stroke-linejoin="round">www.astegiudiziarie.it</text></g>
<g filter="url(#soft)" fill="#5a5a5a" font-family="Liberation Sans" font-size="44">
<text x="708.6" y="3392.9" textLength="1050.6" lengthAdjust="spacingAndGlyphs">Pubblicazione ufficiale ad esclusivo uso personale - è vietata ogni</text>
<text x="536.8" y="3450" textLength="1394.2" lengthAdjust="spacingAndGlyphs">ripubblicazione o riproduzione a scopo commerciale - Aut. Min. Giustizia PDG 21/07/09</text>
</g>
</svg>
</body></html>
